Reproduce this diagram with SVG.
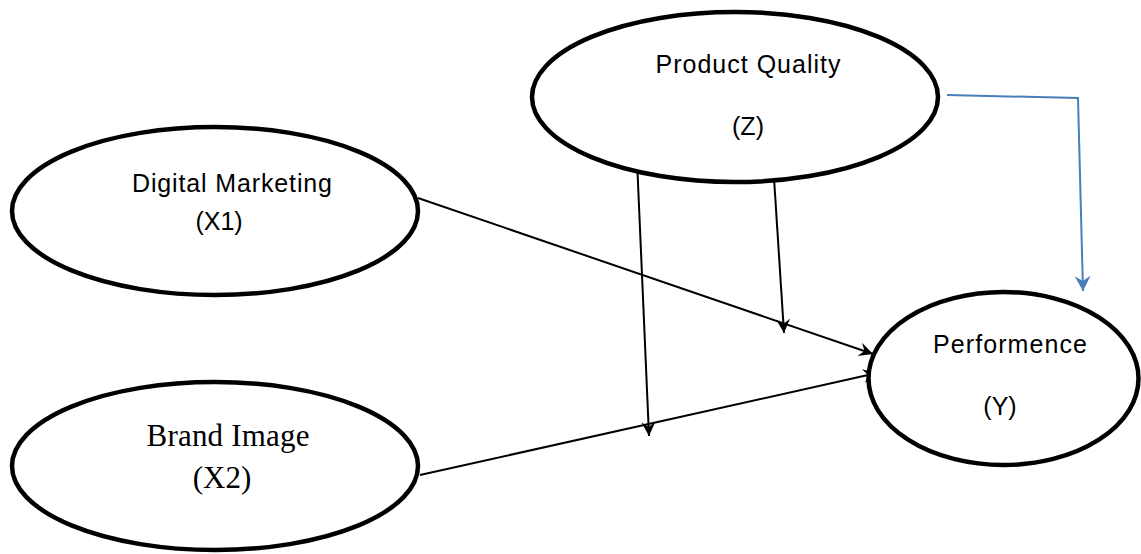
<svg xmlns="http://www.w3.org/2000/svg" width="1141" height="554" viewBox="0 0 1141 554">
  <style>
    .node { fill: #ffffff; stroke: #000000; stroke-width: 4.5; }
    .sans { font-family: "Liberation Sans", Arial, sans-serif; font-size: 25px; fill: #000000; text-anchor: middle; }
    .serif { font-family: "Liberation Serif", "Times New Roman", serif; font-size: 31px; fill: #000000; text-anchor: middle; }
    .link { fill: none; stroke: #000000; stroke-width: 2; }
    .link-blue { fill: none; stroke: #4A7EBB; stroke-width: 2; }
  </style>
  <defs>
    <marker id="arrow" markerUnits="userSpaceOnUse" markerWidth="18" markerHeight="18" viewBox="-15 -9 18 18" refX="0" refY="0" orient="auto">
      <path d="M0,0 L-14,-7 L-9,0 L-14,7 z" fill="#000000"/>
    </marker>
    <marker id="arrow-blue" markerUnits="userSpaceOnUse" markerWidth="20" markerHeight="20" viewBox="-17 -10 20 20" refX="0" refY="0" orient="auto">
      <path d="M0,0 L-15,-8 L-10,0 L-15,8 z" fill="#4A7EBB"/>
    </marker>
  </defs>

  <!-- connectors -->
  <g id="connectors">
    <line class="link" x1="418" y1="198" x2="873" y2="354" marker-end="url(#arrow)"/>
    <line class="link" x1="420" y1="475" x2="877" y2="373" marker-end="url(#arrow)"/>
    <line class="link" x1="637" y1="160" x2="649" y2="436" marker-end="url(#arrow)"/>
    <line class="link" x1="774" y1="178" x2="784" y2="333" marker-end="url(#arrow)"/>
    <polyline class="link-blue" points="947,95 1078,98 1083,291" marker-end="url(#arrow-blue)"/>
  </g>

  <g id="node-z">
    <ellipse class="node" cx="735" cy="97" rx="203" ry="85"/>
    <text class="sans" x="748" y="73" textLength="185" lengthAdjust="spacing">Product Quality</text>
    <text class="sans" x="748" y="135">(Z)</text>
  </g>

  <g id="node-x1">
    <ellipse class="node" cx="215" cy="211" rx="203" ry="84"/>
    <text class="sans" x="232" y="192" textLength="200" lengthAdjust="spacing">Digital Marketing</text>
    <text class="sans" x="219" y="230">(X1)</text>
  </g>

  <g id="node-x2">
    <ellipse class="node" cx="215" cy="466" rx="203" ry="84"/>
    <text class="serif" x="228" y="446" textLength="163" lengthAdjust="spacing">Brand Image</text>
    <text class="serif" x="222" y="488">(X2)</text>
  </g>

  <g id="node-y">
    <ellipse class="node" cx="1003.5" cy="378.5" rx="135" ry="86.5"/>
    <text class="sans" x="1010" y="353" textLength="154" lengthAdjust="spacing">Performence</text>
    <text class="sans" x="1000" y="415">(Y)</text>
  </g>
</svg>
